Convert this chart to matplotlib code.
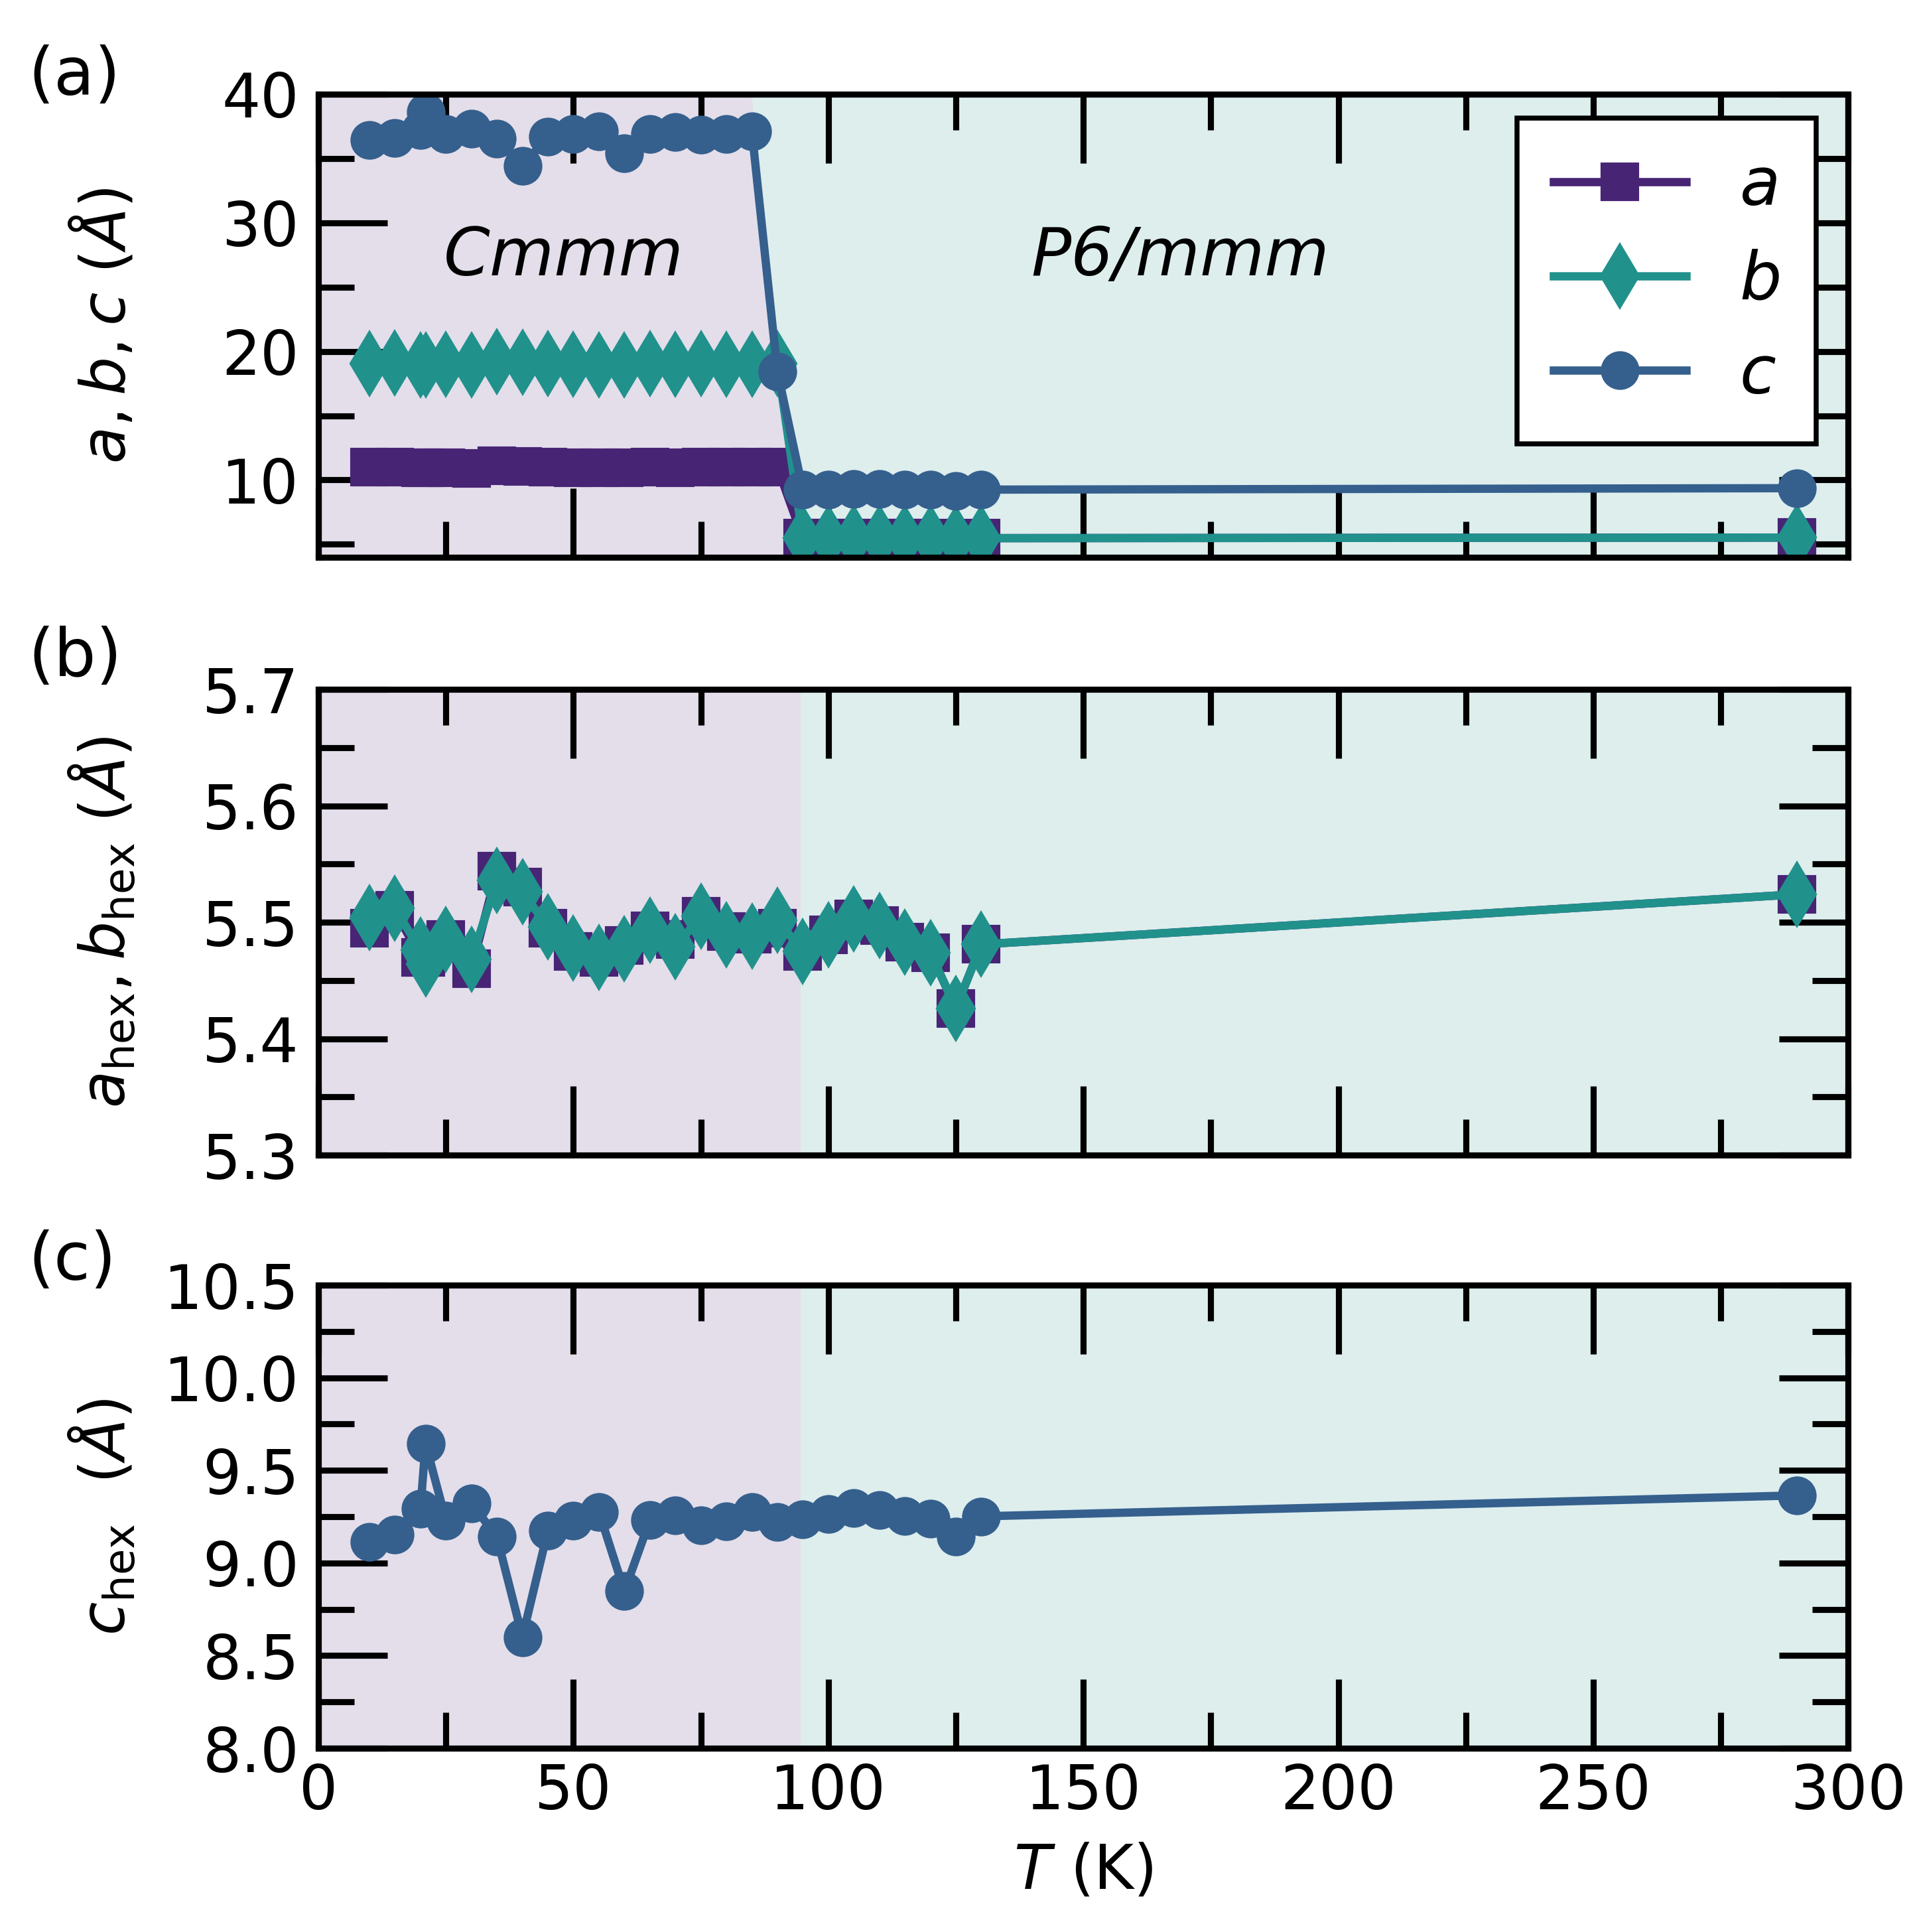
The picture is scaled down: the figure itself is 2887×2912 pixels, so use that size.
import numpy as np
import matplotlib
matplotlib.use('Agg')
import matplotlib.pyplot as plt
from matplotlib.ticker import MultipleLocator

## temperatures (K)
T = [10, 15, 20, 21, 25, 30, 35, 40, 45, 50, 55, 60, 65, 70, 75, 80, 85, 90,
     95, 100, 105, 110, 115, 120, 125, 130, 290]

## lattice parameters as refined (Cmmm below ~90 K, P6/mmm above)
a_latt = [10.99, 11.02, 10.94, 10.94, 10.97, 10.92, 11.09, 11.06, 10.99, 10.95, 10.94, 10.96,
          10.99, 10.97, 11.01, 10.98, 10.98, 10.99,
          5.475, 5.489, 5.503, 5.497, 5.483, 5.474, 5.426, 5.481, 5.524]
b_latt = [19.07, 19.09, 18.97, 18.93, 19.00, 18.94, 19.18, 19.14, 19.04, 18.98, 18.95, 18.97,
          19.03, 18.98, 19.07, 19.01, 19.01, 19.06,
          5.475, 5.489, 5.503, 5.497, 5.483, 5.474, 5.426, 5.481, 5.524]
c_latt = [36.45, 36.61, 37.18, 38.58, 36.92, 37.29, 36.56, 34.40, 36.70, 36.92, 37.10, 35.39,
          36.92, 37.03, 36.82, 36.90, 37.10, 18.45,
          9.235, 9.266, 9.296, 9.287, 9.254, 9.239, 9.141, 9.252, 9.365]

## hexagonal sub-cell
a_hex = [5.495, 5.510, 5.470, 5.470, 5.485, 5.460, 5.544, 5.530, 5.495, 5.475, 5.470, 5.480,
         5.4925, 5.485, 5.505, 5.492, 5.490, 5.495,
         5.475, 5.489, 5.503, 5.497, 5.483, 5.474, 5.426, 5.481, 5.524]
b_hex = [5.504, 5.512, 5.476, 5.464, 5.485, 5.468, 5.536, 5.526, 5.496, 5.478, 5.470, 5.477,
         5.493, 5.479, 5.505, 5.489, 5.488, 5.502,
         5.475, 5.489, 5.503, 5.497, 5.483, 5.474, 5.426, 5.481, 5.524]
c_hex = [9.113, 9.153, 9.294, 9.644, 9.230, 9.322, 9.141, 8.600, 9.176, 9.229, 9.276, 8.848,
         9.231, 9.258, 9.205, 9.225, 9.274, 9.223,
         9.235, 9.266, 9.296, 9.287, 9.254, 9.239, 9.141, 9.252, 9.365]

T_c = 94.5  # phase boundary used for shading in (b),(c)

col_a = '#482475'
col_b = '#21918c'
col_c = '#355f8d'

plt.rcParams['font.size'] = 22
plt.rcParams['axes.linewidth'] = 2.2

fig = plt.figure(figsize=(2887/300, 2912/300), dpi=300)
left, width = 0.1663, 0.7988
ax1 = fig.add_axes([left, 0.7116, width, 0.2397])
ax2 = fig.add_axes([left, 0.4021, width, 0.2411])
ax3 = fig.add_axes([left, 0.0951, width, 0.2397])

mk = dict(lw=3, ms=13)

## (a) full cell
ylo, yhi = 4, 40
# Cmmm region follows the c-drop between 85 and 95 K
bx = [0, 0, 85, 90, 95, 95]
by = [ylo, yhi, yhi, c_latt[17], c_latt[18], ylo]
ax1.fill(bx, by, color=col_a, alpha=0.15, lw=0)
ax1.fill([85, 300, 300, 95, 95, 90], [yhi, yhi, ylo, ylo, c_latt[18], c_latt[17]],
         color=col_b, alpha=0.15, lw=0)
ax1.plot(T, a_latt, 's-', color=col_a, label='$a$', **mk)
ax1.plot(T, b_latt, 'd-', color=col_b, label='$b$', ms=16, lw=3)
ax1.plot(T, c_latt, 'o-', color=col_c, label='$c$', **mk)
ax1.set_ylim(ylo, yhi)
ax1.yaxis.set_major_locator(MultipleLocator(10))
ax1.yaxis.set_minor_locator(MultipleLocator(5))
ax1.set_ylabel(r'$a, b, c$ ($\AA$)')
ax1.text(48.1, 25.9, 'Cmmm', style='italic', fontsize=24, ha='center', va='baseline')
ax1.text(169, 25.9, 'P6/mmm', style='italic', fontsize=24, ha='center', va='baseline')
leg = ax1.legend(loc='upper right', bbox_to_anchor=(0.979, 0.948), borderaxespad=0,
                 fontsize=24, numpoints=1, fancybox=False, framealpha=1, edgecolor='k',
                 borderpad=0.55, labelspacing=0.45, handlelength=2.0, handletextpad=0.8)
leg.get_frame().set_linewidth(1.8)

## (b) a_hex, b_hex
ax2.axvspan(0, T_c, color=col_a, alpha=0.15, lw=0)
ax2.axvspan(T_c, 300, color=col_b, alpha=0.15, lw=0)
ax2.plot(T, a_hex, 's-', color=col_a, **mk)
ax2.plot(T, b_hex, 'd-', color=col_b, ms=16, lw=3)
ax2.set_ylim(5.3, 5.7)
ax2.yaxis.set_major_locator(MultipleLocator(0.1))
ax2.yaxis.set_minor_locator(MultipleLocator(0.05))
ax2.set_ylabel(r'$a_{\rm hex}, b_{\rm hex}$ ($\AA$)')

## (c) c_hex
ax3.axvspan(0, T_c, color=col_a, alpha=0.15, lw=0)
ax3.axvspan(T_c, 300, color=col_b, alpha=0.15, lw=0)
ax3.plot(T, c_hex, 'o-', color=col_c, **mk)
ax3.set_ylim(8.0, 10.5)
ax3.yaxis.set_major_locator(MultipleLocator(0.5))
ax3.yaxis.set_minor_locator(MultipleLocator(0.25))
ax3.set_ylabel(r'$c_{\rm hex}$  ($\AA$)')
ax3.set_xlabel(r'$T$ (K)', labelpad=7)

for ax in (ax1, ax2, ax3):
    ax.set_xlim(0, 300)
    ax.xaxis.set_major_locator(MultipleLocator(50))
    ax.xaxis.set_minor_locator(MultipleLocator(25))
    ax.tick_params(which='both', direction='in', top=True, right=True, width=2.2)
    ax.tick_params(which='major', length=25)
    ax.tick_params(which='minor', length=13)
    ax.tick_params(axis='y', pad=7)
    ax.tick_params(axis='x', pad=5)
    ax.yaxis.set_label_coords(-0.118, 0.5)
    if ax is not ax3:
        ax.tick_params(labelbottom=False)

fig.text(42/2887, 1 - 67/2912, '(a)', fontsize=24, va='top', ha='left')
fig.text(42/2887, 1 - 943/2912, '(b)', fontsize=24, va='top', ha='left')
fig.text(42/2887, 1 - 1853/2912, '(c)', fontsize=24, va='top', ha='left')

fig.savefig('out.png', dpi=300)
